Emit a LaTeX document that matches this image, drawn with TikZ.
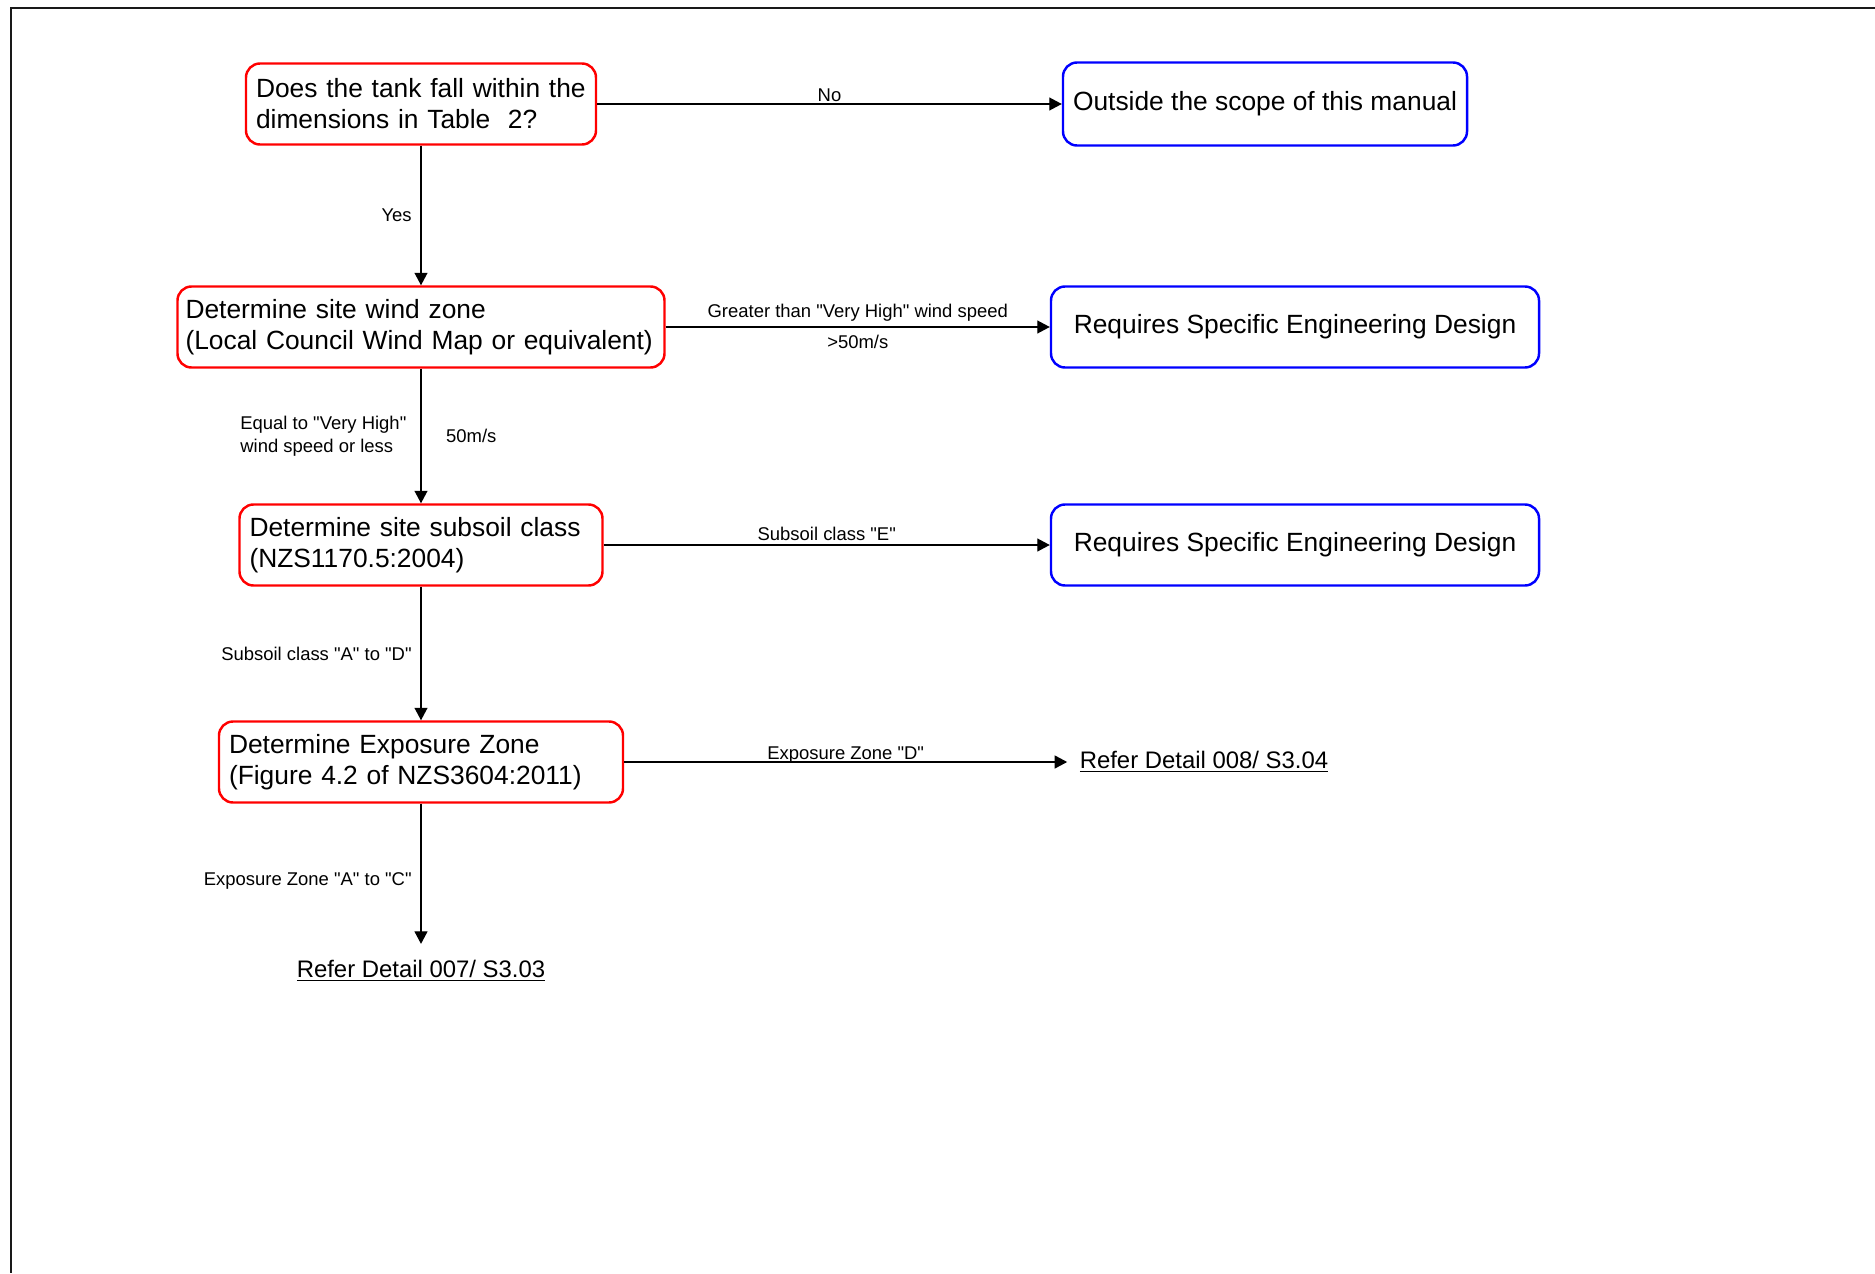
\documentclass[tikz,border=0pt]{standalone}
\usepackage{fontspec}
\setmainfont{Liberation Sans}[Ligatures=TeXOff]
\usetikzlibrary{positioning, arrows.meta}

\newcommand{\boxfont}{\fontsize{15pt}{17.6pt}\selectfont}
\newcommand{\lblfont}{\fontsize{10.5pt}{12.9pt}\selectfont}
\newcommand{\reffont}{\fontsize{13.6pt}{16pt}\selectfont}

\tikzset{
  ask/.style = {draw = red, line width = 1.4pt, rounded corners = 0.28cm, align = left,
    inner xsep = 0.2cm, minimum height = 1.62cm, font = \boxfont},
  outbox/.style = {draw = blue, line width = 1.4pt, rounded corners = 0.28cm,
    minimum height = 1.62cm, font = \boxfont},
  lbl/.style = {font = \lblfont, inner sep = 2pt},
  refer/.style = {font = \reffont, inner sep = 0.24cm}
}

\begin{document}
\begin{tikzpicture} [line width = 0.7pt, every edge/.append style = {-{Triangle[length = 0.25cm, width = 0.26cm]}}]

\useasboundingbox (0,0) rectangle (37.5,-25.46);
\draw [line width = 1.4pt, black!90] (37.5,-0.16) -| (0.22,-25.46);

\node [ask, text width = 6.6cm] (q1) at (8.42,-2.08) {Does the tank fall within the\\dimensions in Table\ \ 2?};
\node [ask, text width = 9.42cm, inner xsep = 0.16cm] (q2) [node distance = 4.46cm, below of = q1] {Determine site wind zone\\(Local Council Wind Map or equivalent)};
\node [ask, text width = 6.86cm] (q3) [node distance = 4.36cm, below of = q2] {Determine site subsoil class\\(NZS1170.5:2004)};
\node [ask, text width = 7.68cm] (q4) [node distance = 4.34cm, below of = q3] {Determine Exposure Zone\\(Figure 4.2 of NZS3604:2011)};
\node [refer, inner ysep = 0.32cm] (ref7) [node distance = 4.18cm, below of = q4] {\underline{Refer Detail 007/ S3.03}};

\node [outbox, minimum width = 8.08cm, minimum height = 1.66cm] (out) [node distance = 16.88cm, right of = q1] {Outside the scope of this manual};
\node [outbox, minimum width = 9.76cm] (sed1) [node distance = 17.48cm, right of = q2] {Requires Specific Engineering Design};
\node [outbox, minimum width = 9.76cm] (sed2) [node distance = 17.48cm, right of = q3] {Requires Specific Engineering Design};
\node [refer] (ref8) [node distance = 15.66cm, right of = q4] {\underline{Refer Detail 008/ S3.04}};

\path (q1) edge node [lbl, above = -1pt] {No} (out);
\path (q1) edge node [lbl, left = 3pt] {Yes} (q2);

\path (q2) edge node [lbl, above = 1pt] {Greater than "Very High" wind speed} node [lbl, below = 2pt] {>50m/s} (sed1);
\path (q2) edge node [lbl, left = 6pt, align = left] {Equal to "Very High"\\wind speed or less} node [lbl, right = 12pt] {50m/s} (q3);

\path (q3) edge node [lbl, above] {Subsoil class "E"} (sed2);
\path (q3) edge node [lbl, left = 3pt] {Subsoil class "A" to "D"} (q4);

\path (q4) edge node [lbl, above = -3pt] {Exposure Zone "D"} (ref8);
\path (q4) edge node [lbl, left = 3pt, yshift = -4pt] {Exposure Zone "A" to "C"} (ref7);

\end{tikzpicture}
\end{document}
